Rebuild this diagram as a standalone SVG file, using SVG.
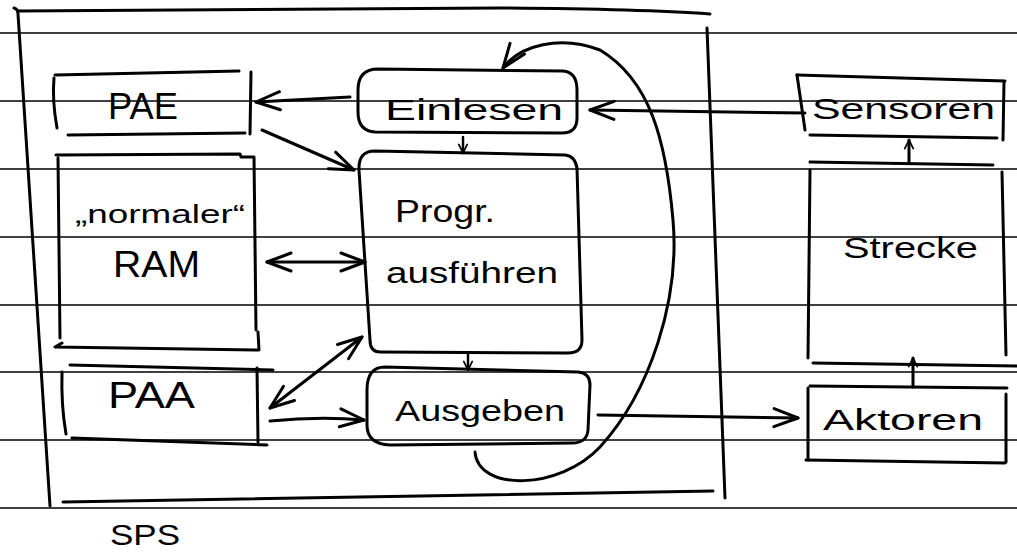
<svg xmlns="http://www.w3.org/2000/svg" width="1017" height="557" viewBox="0 0 1017 557">
  <defs>
    <style>
      .rule { stroke: #000; stroke-width: 1.5; fill: none; }
      .ink { stroke: #000; stroke-width: 3; fill: none; stroke-linecap: round; stroke-linejoin: round; }
      .inkthin { stroke: #000; stroke-width: 2.5; fill: none; stroke-linecap: round; stroke-linejoin: round; }
      .lbl { font-family: "Liberation Sans", "DejaVu Sans", sans-serif; fill: #000; }
    </style>
    <marker id="open" viewBox="0 0 28 24" refX="26" refY="12" markerWidth="28" markerHeight="24" markerUnits="userSpaceOnUse" orient="auto-start-reverse">
      <path d="M2,3 L26,12 L2,21" fill="none" stroke="#000" stroke-width="3" stroke-linecap="round" stroke-linejoin="round"/>
    </marker>
    <marker id="small" viewBox="0 0 14 14" refX="12" refY="7" markerWidth="12" markerHeight="12" markerUnits="userSpaceOnUse" orient="auto">
      <path d="M2,2 L12,7 L2,12" fill="none" stroke="#000" stroke-width="2" stroke-linecap="round" stroke-linejoin="round"/>
    </marker>
  </defs>

  <rect width="1017" height="557" fill="#fff"/>

  <!-- ruled paper -->
  <g id="paper">
    <line class="rule" x1="0" y1="33" x2="1017" y2="33"/>
    <line class="rule" x1="0" y1="101" x2="1017" y2="101"/>
    <line class="rule" x1="0" y1="169" x2="1017" y2="169"/>
    <line class="rule" x1="0" y1="237" x2="1017" y2="237"/>
    <line class="rule" x1="0" y1="305" x2="1017" y2="305"/>
    <line class="rule" x1="0" y1="372" x2="1017" y2="372"/>
    <line class="rule" x1="0" y1="440" x2="1017" y2="440"/>
    <line class="rule" x1="0" y1="508" x2="1017" y2="508"/>
  </g>

  <!-- SPS frame -->
  <g id="sps">
    <path class="ink" d="M14,8 Q18,9 18,14 L50,506"/>
    <path class="ink" d="M18,11 L500,8 Q640,9 710,14"/>
    <path class="ink" d="M707,28 L725,498"/>
    <path class="ink" d="M63,502 L713,491"/>
    <text class="lbl" x="110" y="545" font-size="30" textLength="70" lengthAdjust="spacingAndGlyphs">SPS</text>
  </g>

  <g id="pae">
    <path class="ink" d="M55,75 L239,71"/>
    <path class="ink" d="M54,78 Q52,100 57,128"/>
    <path class="ink" d="M68,135 L245,133"/>
    <path class="ink" d="M251,72 L250,134"/>
    <text class="lbl" x="108" y="119" font-size="36" textLength="70" lengthAdjust="spacingAndGlyphs">PAE</text>
  </g>

  <g id="ram">
    <path class="ink" d="M56,155 L240,154 L241,157 L254,157 L256,330"/>
    <path class="ink" d="M58,158 L60,338"/>
    <path class="ink" d="M62,343 L55,347 L259,350 L258,332"/>
    <text class="lbl" x="75" y="223" font-size="26" textLength="170" lengthAdjust="spacingAndGlyphs">„normaler“</text>
    <text class="lbl" x="113" y="277" font-size="36" textLength="87" lengthAdjust="spacingAndGlyphs">RAM</text>
  </g>

  <g id="paa">
    <path class="ink" d="M70,365 L273,370"/>
    <path class="ink" d="M62,372 Q61,405 66,434"/>
    <path class="ink" d="M257,368 L258,442"/>
    <path class="ink" d="M72,438 L267,445"/>
    <text class="lbl" x="108" y="408" font-size="36" textLength="87" lengthAdjust="spacingAndGlyphs">PAA</text>
  </g>

  <g id="einlesen">
    <path class="ink" d="M378,69 L563,71 Q577,72 577,90 L577,118 Q577,133 562,133 L375,132 Q358,131 358,112 L358,90 Q358,69 378,69 Z"/>
    <text class="lbl" x="385" y="120" font-size="30" textLength="178" lengthAdjust="spacingAndGlyphs">Einlesen</text>
  </g>

  <g id="progr">
    <path class="ink" d="M375,151 L565,155 Q575,156 577,168 L582,340 Q582,353 568,353 L380,352 Q370,352 370,340 L359,170 Q358,151 375,151 Z"/>
    <text class="lbl" x="395" y="222" font-size="32" textLength="100" lengthAdjust="spacingAndGlyphs">Progr.</text>
    <text class="lbl" x="386" y="283" font-size="30" textLength="172" lengthAdjust="spacingAndGlyphs">ausführen</text>
  </g>

  <g id="ausgeben">
    <path class="ink" d="M385,367 L578,372 Q590,373 590,385 L588,430 Q587,443 572,443 L390,445 Q367,444 367,425 L367,390 Q367,367 385,367 Z"/>
    <text class="lbl" x="395" y="421" font-size="30" textLength="170" lengthAdjust="spacingAndGlyphs">Ausgeben</text>
  </g>

  <g id="sensoren">
    <path class="ink" d="M797,75 L1005,81"/>
    <path class="ink" d="M797,75 L805,130"/>
    <path class="ink" d="M1004,82 L1003,140"/>
    <path class="ink" d="M810,135 L997,138"/>
    <text class="lbl" x="812" y="119" font-size="30" textLength="183" lengthAdjust="spacingAndGlyphs">Sensoren</text>
  </g>

  <g id="strecke">
    <path class="ink" d="M810,162 L993,165"/>
    <path class="ink" d="M810,170 L808,358"/>
    <path class="ink" d="M1002,172 L1006,355"/>
    <path class="ink" d="M813,363 L1017,366"/>
    <text class="lbl" x="843" y="258" font-size="30" textLength="135" lengthAdjust="spacingAndGlyphs">Strecke</text>
  </g>

  <g id="aktoren">
    <path class="ink" d="M810,386 L1007,388"/>
    <path class="ink" d="M808,388 L808,460"/>
    <path class="ink" d="M1006,394 L1006,462"/>
    <path class="ink" d="M806,460 L1005,463"/>
    <text class="lbl" x="823" y="430" font-size="30" textLength="160" lengthAdjust="spacingAndGlyphs">Aktoren</text>
  </g>

  <!-- connectors -->
  <g id="connectors">
    <line class="ink" x1="350" y1="97" x2="256" y2="102" marker-end="url(#open)"/>
    <line class="ink" x1="262" y1="130" x2="354" y2="170" marker-end="url(#open)"/>
    <line class="inkthin" x1="463" y1="137" x2="463" y2="153" marker-end="url(#small)"/>
    <line class="ink" x1="805" y1="113" x2="590" y2="110" marker-end="url(#open)"/>
    <line class="ink" x1="909" y1="163" x2="909" y2="140" marker-end="url(#small)"/>
    <line class="ink" x1="267" y1="262" x2="365" y2="262" marker-start="url(#open)" marker-end="url(#open)"/>
    <line class="ink" x1="270" y1="408" x2="362" y2="337" marker-start="url(#open)" marker-end="url(#open)"/>
    <path class="ink" d="M270,421 Q320,416 364,420" marker-end="url(#open)"/>
    <line class="inkthin" x1="468" y1="354" x2="468" y2="370" marker-end="url(#small)"/>
    <line class="ink" x1="598" y1="415" x2="798" y2="418" marker-end="url(#open)"/>
    <line class="ink" x1="913" y1="387" x2="913" y2="358" marker-end="url(#small)"/>
    <path class="ink" d="M475,452 C478,492 560,490 600,447 C650,392 680,300 673,220 C666,140 650,80 600,50 C560,35 520,45 503,68" marker-end="url(#open)"/>
  </g>
</svg>
